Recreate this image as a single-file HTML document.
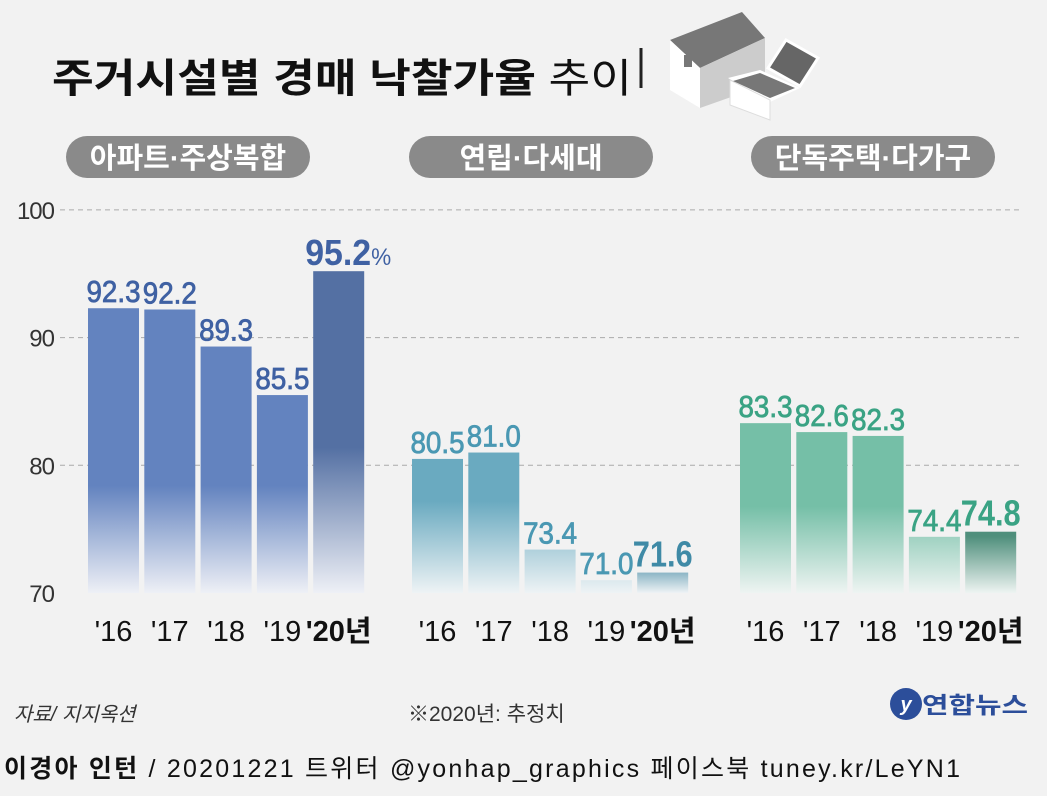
<!DOCTYPE html>
<html><head><meta charset="utf-8"><style>
body{margin:0;background:#f2f2f2;}
svg text{font-family:"Liberation Sans","Noto Sans CJK KR",sans-serif;}
</style></head><body>
<svg id="chart" width="1047" height="791" viewBox="0 0 1047 791" xmlns="http://www.w3.org/2000/svg">
<defs>
<linearGradient id="g0" gradientUnits="userSpaceOnUse" x1="0" y1="210" x2="0" y2="593"><stop offset="0.72" stop-color="#6383bf"/><stop offset="1" stop-color="#eef0f6"/></linearGradient>
<linearGradient id="g0d" gradientUnits="userSpaceOnUse" x1="0" y1="210" x2="0" y2="593"><stop offset="0.62" stop-color="#5470a3"/><stop offset="1" stop-color="#eef0f6"/></linearGradient>
<linearGradient id="g1" gradientUnits="userSpaceOnUse" x1="0" y1="440" x2="0" y2="593"><stop offset="0.4" stop-color="#6aaac0"/><stop offset="1" stop-color="#eef3f5"/></linearGradient>
<linearGradient id="g1d" gradientUnits="userSpaceOnUse" x1="0" y1="560" x2="0" y2="593"><stop offset="0" stop-color="#4f90a8"/><stop offset="1" stop-color="#eef3f5"/></linearGradient>
<linearGradient id="g2" gradientUnits="userSpaceOnUse" x1="0" y1="420" x2="0" y2="593"><stop offset="0.5" stop-color="#75bfa7"/><stop offset="1" stop-color="#eef4f2"/></linearGradient>
<linearGradient id="g2d" gradientUnits="userSpaceOnUse" x1="0" y1="530" x2="0" y2="593"><stop offset="0.1" stop-color="#4f8f7c"/><stop offset="1" stop-color="#eef4f2"/></linearGradient>
</defs>
<text x="52" y="92" font-size="40" font-weight="bold" fill="#111" textLength="580" lengthAdjust="spacingAndGlyphs">주거시설별 경매 낙찰가율 <tspan font-weight="normal">추이</tspan></text>
<line x1="641" y1="48" x2="641" y2="88" stroke="#222" stroke-width="3"/>
<g>
<polygon points="670,40 742,12 765,38 700,68" fill="#777"/>
<polygon points="670,40 700,68 700,108 670,90" fill="#fff"/>
<polygon points="700,68 765,38 765,85 700,108" fill="#ccc"/>
<rect x="684" y="55" width="8" height="12" fill="#777"/>
<polygon points="728,78 760,70 800,88 770,102" fill="#fff"/>
<polygon points="730,80 770,100 770,120 730,105" fill="#fff" stroke="#ddd"/>
<polygon points="733,81 760,73 795,88 770,98" fill="#777"/>
<polygon points="768,68 786,40 818,58 800,86" fill="#666" stroke="#fff" stroke-width="3"/>
</g>
<g id="pills"></g>
<g id="grid"></g>
<g id="bars"></g>
<text x="14" y="721" font-size="20" font-style="italic" fill="#333">자료/ 지지옥션</text>
<text x="408" y="721" font-size="21" fill="#333">※2020년: 추정치</text>
<g><circle cx="906" cy="704" r="16" fill="#2c4e9a"/><text x="906" y="711" font-size="20" font-style="italic" fill="#fff" text-anchor="middle" font-weight="bold">y</text><text x="922" y="713" font-size="23" font-weight="bold" fill="#2c4e9a" textLength="106" lengthAdjust="spacingAndGlyphs">연합뉴스</text></g>
<text x="4" y="777" font-size="25" fill="#111" textLength="956" lengthAdjust="spacing"><tspan font-weight="bold">이경아 인턴</tspan> / 20201221    트위터 @yonhap_graphics  페이스북 tuney.kr/LeYN1</text>
</svg>
<script>
const categories=["'16","'17","'18","'19","'20년"];
const groups=["아파트·주상복합","연립·다세대","단독주택·다가구"];
const seriesApt=[92.3,92.2,89.3,85.5,95.2];
const seriesRow=[80.5,81.0,73.4,71.0,71.6];
const seriesHouse=[83.3,82.6,82.3,74.4,74.8];
const yTicks=[70,80,90,100];
const NS="http://www.w3.org/2000/svg";
const y=v=>593-(v-70)*12.77;
const groupX=[88,412,740], step=56.3, bw=51;
const labelColors=["#3f61a3","#4a98b3","#3aa384"];
const pillCenters=[188,531,873];
function mk(t,a,p){const e=document.createElementNS(NS,t);for(const k in a)e.setAttribute(k,a[k]);(p||document.getElementById('chart')).appendChild(e);return e;}
const grid=document.getElementById('grid');
yTicks.forEach(t=>{
 if(t>70){const l=mk('line',{x1:60,x2:1020,y1:y(t),y2:y(t),stroke:'#aaa','stroke-dasharray':'5,4'},grid);
 
 }
 const tx=mk('text',{x:54,y:y(t)+9,'font-size':24,fill:'#333','text-anchor':'end','letter-spacing':-1},grid);tx.textContent=t;
 
 
});
const pills=document.getElementById('pills');
groups.forEach((g,i)=>{
 const w=244;
 const r=mk('rect',{x:pillCenters[i]-w/2,y:136,width:w,height:42,rx:21,fill:'#8a8a8a'},pills);
 
 
 const t=mk('text',{x:pillCenters[i],y:168,'font-size':29,'font-weight':'bold',fill:'#fff','text-anchor':'middle'},pills);t.textContent=g;
 
 
});
const bars=document.getElementById('bars');
[seriesApt,seriesRow,seriesHouse].forEach((s,gi)=>{
 s.forEach((v,i)=>{
  const x=groupX[gi]+i*step;
  const last=i==s.length-1;
  const b=mk('rect',{x:x,y:y(v),width:bw,height:593-y(v),fill:'url(#g'+gi+(last?'d':'')+')'},bars);
  
  
  const big=last;
  const t=mk('text',{x:x+bw/2,y:y(v)-6,'font-size':big?36:31,'font-weight':big?'bold':'normal',stroke:labelColors[gi],'stroke-width':big?0:0.8,fill:gi==1&&big?'#3f8aa6':labelColors[gi],'text-anchor':'middle'},bars);
  t.textContent=v.toFixed(1);
  if(gi==0&&last){t.setAttribute('x',x-8);t.setAttribute('text-anchor','start');const sp=document.createElementNS(NS,'tspan');sp.setAttribute('font-size',24);sp.setAttribute('font-weight','normal');sp.textContent='%';t.appendChild(sp);t.setAttribute('textLength',86);t.setAttribute('lengthAdjust','spacingAndGlyphs');}
  else{t.setAttribute('textLength',big?60:54);t.setAttribute('lengthAdjust','spacingAndGlyphs');}
  
  
  const c=mk('text',{x:x+bw/2,y:641,'font-size':29,'font-weight':last?'bold':'normal',fill:'#111','text-anchor':'middle'},bars);
  c.textContent=categories[i];
  
  
 });
});
</script>
</body></html>
